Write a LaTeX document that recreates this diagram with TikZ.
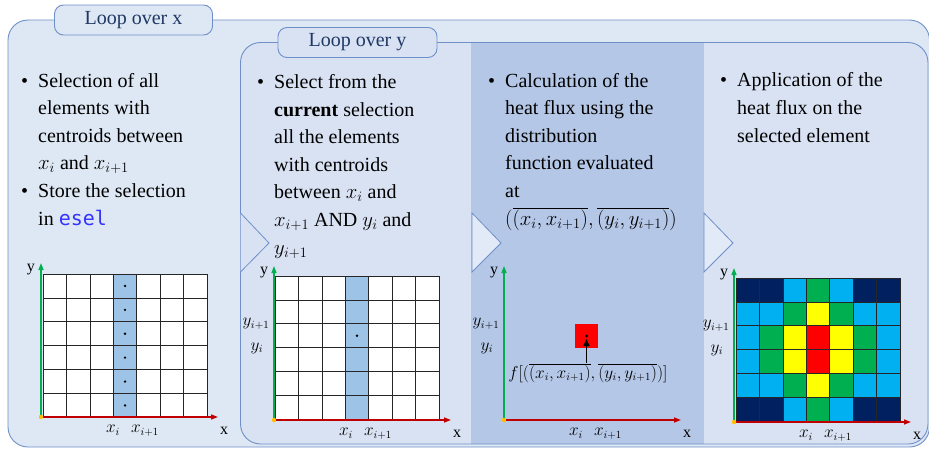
\documentclass[tikz,border=0pt]{standalone}
\usepackage{fontspec}
\setmainfont{Liberation Serif}
\setmonofont{DejaVu Sans Mono}
\usepackage{tikz}
\usetikzlibrary{positioning, arrows.meta, calc}

\definecolor{outerfill}{HTML}{DEE8F4}
\definecolor{innerfill}{HTML}{D9E2F3}
\definecolor{calcfill}{HTML}{B4C7E7}
\definecolor{chevfill}{HTML}{E1EAF6}
\definecolor{frame}{HTML}{6F8FC9}
\definecolor{tabtext}{HTML}{1F3864}
\definecolor{selcol}{HTML}{9DC3E6}
\definecolor{axisx}{HTML}{C00000}
\definecolor{axisy}{HTML}{00B050}
\definecolor{orgdot}{HTML}{FFC000}
\definecolor{codeblue}{HTML}{3333FF}
\definecolor{hN}{HTML}{002060}
\definecolor{hC}{HTML}{00B0F0}
\definecolor{hG}{HTML}{00B050}
\definecolor{hY}{HTML}{FFFF00}
\definecolor{hR}{HTML}{FF0000}

\newcommand{\bul}{\makebox[17pt][l]{\textbullet}}
\newcommand{\ind}{\hspace*{17pt}}

\begin{document}
\begin{tikzpicture}[x=1pt, y=-1pt,
  every node/.style={inner sep=0pt},
  loopbox/.style={draw=frame, line width=0.9pt, rounded corners=20pt},
  tab/.style={draw=frame, line width=0.9pt, rounded corners=9pt, fill=outerfill,
    text=tabtext, font=\fontsize{20}{24}\selectfont, minimum height=30pt},
  col/.style={anchor=base west, align=left, font=\fontsize{20}{27.6}\selectfont},
  chev/.style={draw=frame, line width=0.8pt, fill=chevfill},
  mesh/.style={draw=black!85, line width=0.7pt},
  xaxis/.style={draw=axisx, line width=1.4pt, -{Triangle[length=7pt, width=5pt]}},
  yaxis/.style={draw=axisy, line width=1.4pt, -{Triangle[length=7pt, width=5pt]}},
  flux/.style={draw=black, line width=1.5pt, -{Triangle[length=7pt, width=6pt]}},
  lbl/.style={font=\fontsize{16}{16}\selectfont},
]
  \useasboundingbox (0,0) rectangle (929,450);

  % loop boxes
  \draw[loopbox, fill=outerfill] (8,20) rectangle (929.5,447);
  \node[tab, minimum width=158pt] (tabx) at (133.5,20) {Loop over x};
  \fill[innerfill, rounded corners=20pt] (240.5,42.5) rectangle (928,444);
  \fill[calcfill] (471,42.5) rectangle (703.5,443.5);
  \draw[loopbox] (240.5,42.5) rectangle (928,444);
  \node[tab, minimum width=159pt, fill=innerfill] (taby) at (357.5,42.5) {Loop over y};

  % chevrons
  \draw[chev, fill=innerfill] (240.5,213) -- (269,243) -- (240.5,272);
  \draw[chev] (472,213) -- (501,243) -- (472,272) -- cycle;
  \draw[chev] (704,213) -- (733,243) -- (704,272) -- cycle;

  % texts (base = last line)
  \node[col] (selx) at (21,225) {\bul Selection of all\\ \ind elements with\\
    \ind centroids between\\ \ind $x_i$ and $x_{i+1}$\\ \bul Store the selection\\
    \ind in \textcolor{codeblue}{\texttt{esel}}};
  \node[col] (sely) at (257,254) {\bul Select from the\\ \ind \textbf{current} selection\\
    \ind all the elements\\ \ind with centroids\\ \ind between $x_i$ and\\
    \ind $x_{i+1}$ AND $y_i$ and\\ \ind $y_{i+1}$};
  \node[col] (calc) at (488,225) {\bul Calculation of the\\ \ind heat flux using the\\
    \ind distribution\\ \ind function evaluated\\ \ind at\\
    \ind $\bigl(\overline{(x_i,x_{i+1})},\overline{(y_i,y_{i+1})}\bigr)$};
  \node[col] (apply) at (720,142) {\bul Application of the\\ \ind heat flux on the\\
    \ind selected element};

  % white meshes and selected column
  \fill[white] (43,274) rectangle ++(164,143.4);
  \fill[white] (275,276) rectangle ++(164,143.4);
  \fill[selcol] ({43+3*23.43},274) rectangle ++(23.43,143.4);
  \fill[selcol] ({275+3*23.43},276) rectangle ++(23.43,143.4);

  % heat map
  \foreach \row [count=\r from 0] in {{N,N,C,G,C,N,N},{C,C,G,Y,G,C,C},{C,G,Y,R,Y,G,C},
      {C,G,Y,R,Y,G,C},{C,C,G,Y,G,C,C},{N,N,C,G,C,N,N}}
    \foreach \c [count=\k from 0] in \row
      \fill[h\c] ({736+\k*23.43},{278+\r*23.9}) rectangle ++(23.43,23.9);

  % meshes
  \foreach \gx/\gy in {43/274, 275/276, 736/278} {
    \foreach \k in {0,...,7}
      \draw[mesh] ({\gx+\k*23.43},\gy) -- ++(0,143.4);
    \foreach \r in {0,...,6}
      \draw[mesh] (\gx,{\gy+\r*23.9}) -- ++(164,0);
  }
  \foreach \r in {0,...,5}
    \fill ({43+3.5*23.43},{274+(\r+0.5)*23.9}) circle (1.3);
  \fill ({275+3.5*23.43},{276+2.5*23.9}) circle (1.3);

  % heat flux cell
  \node[fill=hR, minimum size=23.5pt] (hot) at (586.5,336) {};
  \fill (hot.center) circle (1.5);
  \node[font=\fontsize{16}{16}\selectfont] (fval) at (588,373)
    {$f\bigl[\bigl(\overline{(x_i,x_{i+1})},\overline{(y_i,y_{i+1})}\bigr)\bigr]$};
  \draw[flux] (fval.north -| hot.center) -- ([yshift=-3pt]hot.center);

  % axes
  \foreach \i/\ox/\oy in {1/41/417, 2/274/420, 3/504/420, 4/734/422} {
    \coordinate (o\i) at (\ox,\oy);
    \coordinate (ytop\i) at ($(o\i)+(0,-154)$);
    \coordinate (xend\i) at ($(o\i)+(177,0)$);
    \draw[yaxis] (o\i) -- (ytop\i);
    \draw[xaxis] (o\i) -- (xend\i);
    \fill[orgdot] (o\i) circle (2.2);
    \node[lbl] (ylab\i) at ($(o\i)+(-10,-147)$) {y};
    \node[lbl] (xlab\i) at ($(o\i)+(183,14)$) {x};
    \node[lbl] (xi\i) at ($(o\i)+(72,13)$) {$x_i$};
    \node[lbl] (xii\i) at ($(o\i)+(104,14)$) {$x_{i+1}$};
    \ifnum\i>1
      \node[lbl] (yii\i) at ($(o\i)+(-18,-96)$) {$y_{i+1}$};
      \node[lbl] (yi\i) at ($(o\i)+(-17,-72)$) {$y_i$};
    \fi
  }
\end{tikzpicture}
\end{document}
